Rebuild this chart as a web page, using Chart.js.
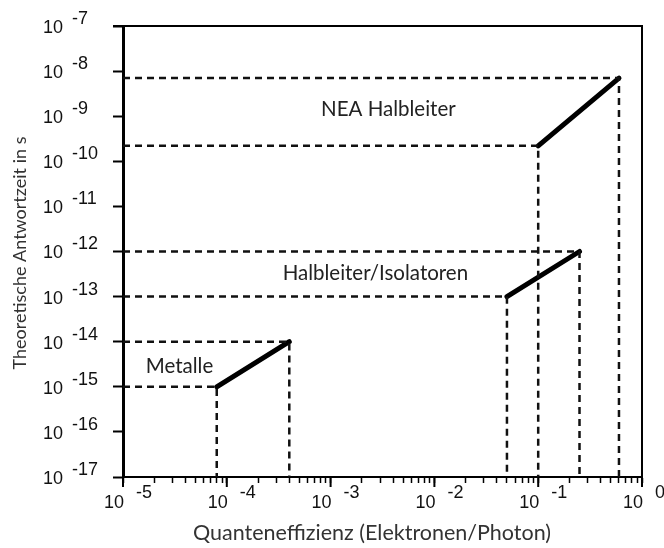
<!DOCTYPE html>
<html>
<head>
<meta charset="utf-8">
<script src="https://cdn.jsdelivr.net/npm/chart.js@4.4.1/dist/chart.umd.min.js"></script>
<style>
  html, body { margin: 0; padding: 0; background: #fff; }
  #wrap { width: 664px; height: 548px; }
</style>
</head>
<body>
<div id="wrap"><canvas id="grafico"></canvas></div>
<script>
// Daten
const gruppen = ['Metalle', 'Halbleiter/Isolatoren', 'NEA Halbleiter'];
const effStart = [8e-5, 0.05, 0.1];
const effEnde = [4e-4, 0.25, 0.6];
const zeitStart = [1e-15, 1e-13, 2.2e-10];
const zeitEnde = [1e-14, 1e-12, 7e-9];
const xExponenten = [-5, -4, -3, -2, -1, 0];
const yExponenten = [-17, -16, -15, -14, -13, -12, -11, -10, -9, -8, -7];
const minorFaktoren = [1, 2, 3, 4, 5, 6, 7, 8, 9];
// Beschriftungen im Diagramm (Datenkoordinaten)
const labelX = [3.5e-5, 2.7e-3, 3.6e-3];
const labelY = [2.9e-15, 3.2e-13, 1.4e-9];

const xMin = Math.pow(10, xExponenten[0]);
const xMax = Math.pow(10, xExponenten[xExponenten.length - 1]);
const yMin = Math.pow(10, yExponenten[0]);
const yMax = Math.pow(10, yExponenten[yExponenten.length - 1]);

const datasets = [];
gruppen.forEach((g, i) => {
    // gestrichelte Hilfslinien
    [[effStart[i], zeitStart[i]], [effEnde[i], zeitEnde[i]]].forEach(p => {
        datasets.push({
            label: g + ' Hilfslinie',
            data: [{x: xMin, y: p[1]}, {x: p[0], y: p[1]}, {x: p[0], y: yMin}],
            borderColor: '#111',
            borderWidth: 2.5,
            borderDash: [7, 5],
            pointRadius: 0,
            showLine: true,
            fill: false
        });
    });
});
gruppen.forEach((g, i) => {
    datasets.push({
        label: g,
        data: [{x: effStart[i], y: zeitStart[i]}, {x: effEnde[i], y: zeitEnde[i]}],
        borderColor: '#000',
        borderWidth: 5,
        borderCapStyle: 'round',
        pointRadius: 0,
        showLine: true,
        fill: false
    });
});

const beschriftung = {
    id: 'beschriftung',
    afterDraw(chart) {
        const ctx = chart.ctx;
        const xs = chart.scales.x, ys = chart.scales.y;
        const a = chart.chartArea;
        ctx.save();
        // Rahmen oben und rechts
        ctx.strokeStyle = '#000';
        ctx.lineWidth = 2;
        ctx.beginPath();
        ctx.moveTo(a.left - 10, a.top);
        ctx.lineTo(a.right, a.top);
        ctx.lineTo(a.right, a.bottom);
        ctx.stroke();
        // lange Striche bei den Dekaden
        xExponenten.forEach(e => {
            const px = xs.getPixelForValue(Math.pow(10, e));
            ctx.beginPath();
            ctx.moveTo(px, a.bottom);
            ctx.lineTo(px, a.bottom + 10);
            ctx.stroke();
        });
        ctx.fillStyle = '#111';
        ctx.textBaseline = 'middle';
        ctx.font = '18px "Liberation Sans", Arial, sans-serif';
        // Achsenbeschriftung y
        yExponenten.forEach(e => {
            const py = ys.getPixelForValue(Math.pow(10, e));
            ctx.textAlign = 'left';
            ctx.fillText('10', 43, py + 2);
            ctx.fillText('-' + Math.abs(e), 72, py - 7);
        });
        // Achsenbeschriftung x
        xExponenten.forEach(e => {
            const px = xs.getPixelForValue(Math.pow(10, e));
            ctx.textAlign = 'right';
            ctx.fillText('10', px + 1, 503);
            ctx.textAlign = 'left';
            ctx.fillText(e === 0 ? '0' : '-' + Math.abs(e), px + 13, 493);
        });
        // Achsentitel
        ctx.fillStyle = '#333';
        ctx.textAlign = 'center';
        ctx.font = '21.5px Lato, sans-serif';
        ctx.fillText('Quanteneffizienz (Elektronen/Photon)', 372, 533);
        ctx.font = '18px Lato, sans-serif';
        ctx.save();
        ctx.translate(20, 253);
        ctx.rotate(-Math.PI / 2);
        ctx.fillText('Theoretische Antwortzeit in s', 0, 0);
        ctx.restore();
        // Gruppennamen
        ctx.fillStyle = '#222';
        ctx.font = '20.5px Lato, sans-serif';
        gruppen.forEach((g, i) => {
            ctx.fillText(g, xs.getPixelForValue(labelX[i]), ys.getPixelForValue(labelY[i]));
        });
        ctx.restore();
    }
};

new Chart(document.getElementById('grafico'), {
    type: 'scatter',
    data: { datasets: datasets },
    options: {
        responsive: true,
        maintainAspectRatio: false,
        animation: false,
        layout: { padding: { left: 113, right: 22, top: 26, bottom: 65 } },
        plugins: { legend: { display: false }, tooltip: { enabled: false } },
        scales: {
            x: {
                type: 'logarithmic',
                min: xMin,
                max: xMax,
                border: { display: true, width: 2, color: '#000' },
                grid: { display: true, drawOnChartArea: false, tickLength: 6, tickWidth: 1.5, tickColor: '#000' },
                ticks: { display: false },
                afterBuildTicks: scale => {
                    const t = [];
                    xExponenten.forEach(e => {
                        minorFaktoren.forEach(m => {
                            const v = m * Math.pow(10, e);
                            if (v <= xMax) t.push({ value: v });
                        });
                    });
                    scale.ticks = t;
                }
            },
            y: {
                type: 'logarithmic',
                min: yMin,
                max: yMax,
                border: { display: true, width: 3, color: '#000' },
                grid: { display: true, drawOnChartArea: false, tickLength: 10, tickWidth: 2, tickColor: '#000' },
                ticks: { display: false },
                afterBuildTicks: scale => {
                    scale.ticks = yExponenten.map(e => ({ value: Math.pow(10, e) }));
                }
            }
        }
    },
    plugins: [beschriftung]
});
</script>
</body>
</html>
